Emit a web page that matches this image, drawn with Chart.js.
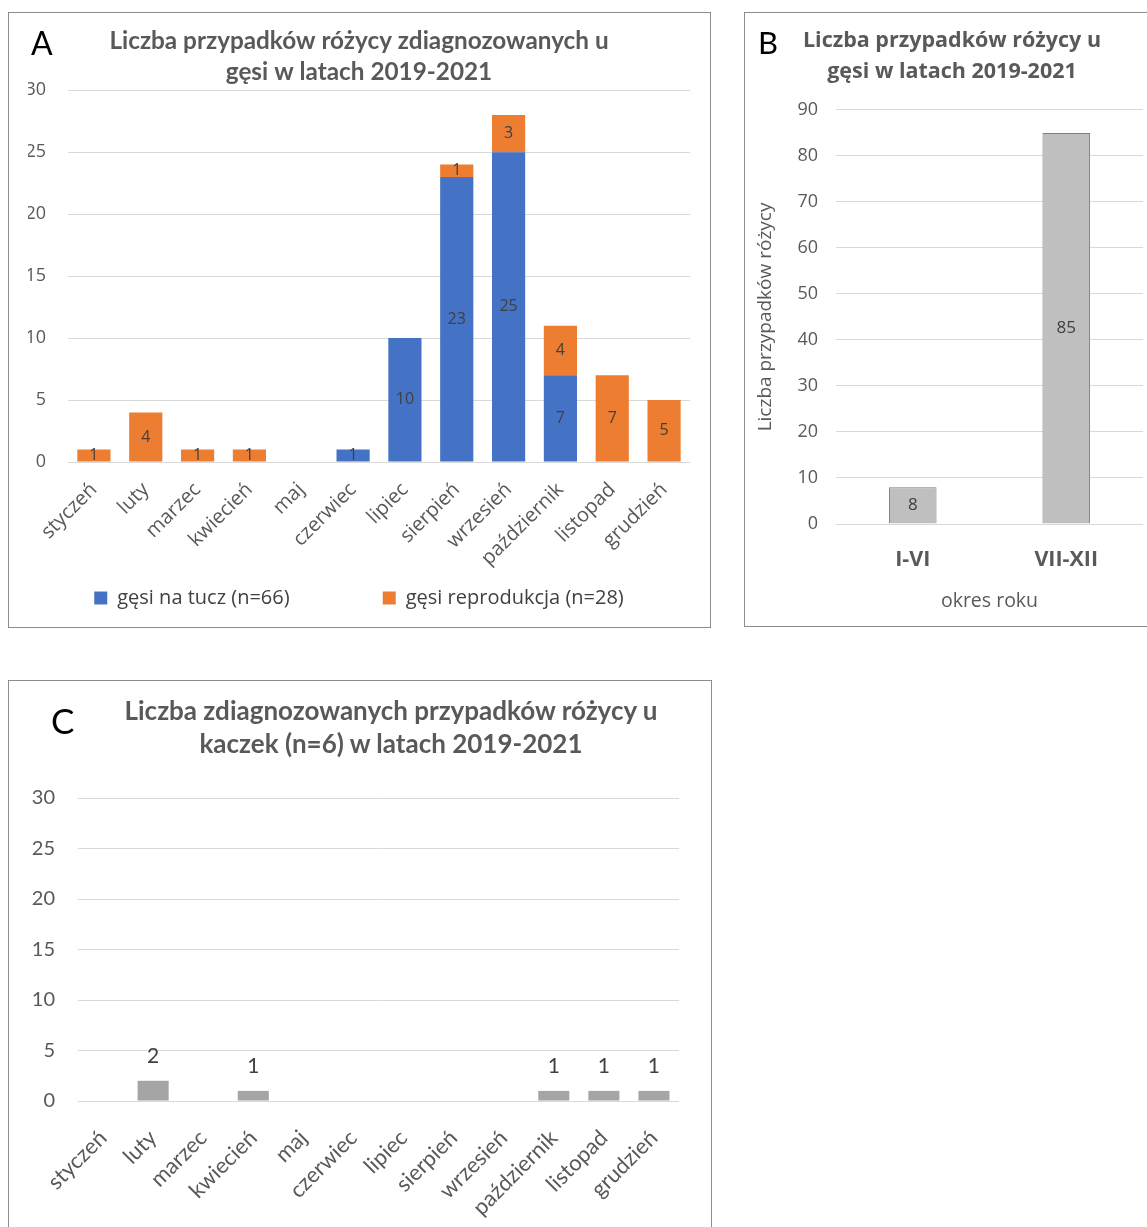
<!DOCTYPE html>
<html>
<head>
<meta charset="utf-8">
<script src="https://cdn.jsdelivr.net/npm/chart.js@4.4.1/dist/chart.umd.min.js"></script>
<style>
  html, body { margin: 0; padding: 0; background: #fff; overflow: hidden; width: 1147px; height: 1227px; }
  .panel { position: absolute; border: 1px solid #8c8c8c; box-sizing: border-box; }
  .panel canvas { position: absolute; }
  .letter { position: absolute; font-family: Lato, sans-serif; color: #000; line-height: 1; }
  .title-c { position: absolute; font-family: Lato, sans-serif; font-weight: bold; font-size: 26px;
             line-height: 33px; color: #595959; text-align: center; width: 640px; }
</style>
</head>
<body>

<div class="panel" style="left:8px; top:12px; width:703px; height:616px;">
  <canvas id="chartA" width="700" height="613" style="left:0; top:0;"></canvas>
</div>
<div class="panel" style="left:744px; top:12px; width:420px; height:615px;">
  <canvas id="chartB" width="404" height="613" style="left:0; top:0;"></canvas>
</div>
<div class="panel" style="left:8px; top:680px; width:704px; height:600px;">
  <canvas id="chartC" width="701" height="560" style="left:0; top:0;"></canvas>
</div>

<div class="letter" style="left:31px; top:27px; font-size:32px;">A</div>
<div class="letter" style="left:758px; top:27px; font-size:31px;">B</div>
<div class="letter" style="left:51px; top:703px; font-size:35px;">C</div>
<div class="title-c" style="left:71px; top:694px;">Liczba zdiagnozowanych przypadków różycy u<br>kaczek (n=6) w latach 2019-2021</div>

<script>
// --- data ---
const months = ['styczeń', 'luty', 'marzec', 'kwiecień', 'maj', 'czerwiec', 'lipiec',
  'sierpień', 'wrzesień', 'październik', 'listopad', 'grudzień'];
const gesiTucz = [0, 0, 0, 0, 0, 1, 10, 23, 25, 7, 0, 0];
const gesiReprodukcja = [1, 4, 1, 1, 0, 0, 0, 1, 3, 4, 7, 5];
const okresy = ['I-VI', 'VII-XII'];
const okresyLiczba = [8, 85];
const kaczki = [0, 2, 0, 1, 0, 0, 0, 0, 0, 1, 1, 1];

const GRID = '#d9d9d9';
const TEXT = '#595959';

// small plugin that writes the value on each bar
const valueLabels = {
  id: 'valueLabels',
  afterDatasetsDraw(chart, args, opts) {
    const ctx = chart.ctx;
    ctx.save();
    ctx.font = opts.font;
    ctx.fillStyle = opts.color;
    ctx.textAlign = 'center';
    chart.data.datasets.forEach((ds, i) => {
      chart.getDatasetMeta(i).data.forEach((bar, j) => {
        const v = ds.data[j];
        if (!v) return;
        if (opts.position === 'top') {
          ctx.textBaseline = 'alphabetic';
          ctx.fillText(v, bar.x, bar.y - opts.offset);
        } else {
          ctx.textBaseline = 'middle';
          ctx.fillText(v, bar.x, (bar.y + bar.base) / 2);
        }
      });
    });
    ctx.restore();
  }
};

// --- A: stacked, geese per month ---
new Chart(document.getElementById('chartA'), {
  type: 'bar',
  data: {
    labels: months,
    datasets: [
      { label: 'gęsi na tucz (n=66)', data: gesiTucz, backgroundColor: '#4472c4' },
      { label: 'gęsi reprodukcja (n=28)', data: gesiReprodukcja, backgroundColor: '#ed7d31' }
    ]
  },
  plugins: [valueLabels],
  options: {
    responsive: false,
    animation: false,
    layout: { padding: { left: 19, right: 19, top: 0, bottom: 8 } },
    datasets: { bar: { barPercentage: 0.64, categoryPercentage: 1 } },
    plugins: {
      title: {
        display: true,
        text: ['Liczba przypadków różycy zdiagnozowanych u', 'gęsi w latach 2019-2021'],
        color: TEXT,
        font: { family: 'Lato', size: 24.3, weight: 'bold', lineHeight: 1.28 },
        padding: { top: 13, bottom: 2 }
      },
      legend: {
        position: 'bottom',
        labels: {
          boxWidth: 13, boxHeight: 13, padding: 10, color: '#404040',
          font: { family: 'Open Sans', size: 20 },
          // wide gap between the two entries, as in the original
          generateLabels(chart) {
            const items = Chart.defaults.plugins.legend.labels.generateLabels(chart);
            items[0].text += ' '.repeat(16);
            return items;
          }
        }
      },
      tooltip: { enabled: false },
      valueLabels: { font: '16px "Open Sans"', color: '#404040', position: 'center' }
    },
    scales: {
      x: {
        stacked: true,
        grid: { display: false },
        border: { display: false },
        ticks: { color: TEXT, font: { family: 'Open Sans', size: 20 }, minRotation: 45, maxRotation: 45, padding: 8 },
        afterFit(s) { s.height = 116; }
      },
      y: {
        stacked: true,
        min: 0, max: 30,
        grid: { color: GRID, drawTicks: false },
        border: { display: false },
        ticks: { stepSize: 5, color: TEXT, font: { family: 'Open Sans', size: 18 }, padding: 22 },
        afterFit(s) { s.width = 40; }
      }
    }
  }
});

// --- B: first vs second half of the year ---
new Chart(document.getElementById('chartB'), {
  type: 'bar',
  data: {
    labels: okresy,
    datasets: [{
      label: 'Liczba przypadków różycy',
      data: okresyLiczba,
      backgroundColor: '#bfbfbf',
      borderColor: '#7f7f7f',
      borderWidth: 1
    }]
  },
  plugins: [valueLabels],
  options: {
    responsive: false,
    animation: false,
    layout: { padding: { left: 16, right: 6, top: 0, bottom: 0 } },
    datasets: { bar: { barPercentage: 0.31, categoryPercentage: 1 } },
    plugins: {
      title: {
        display: true,
        text: ['Liczba przypadków różycy u', 'gęsi w latach 2019-2021'],
        color: TEXT,
        font: { family: 'Open Sans', size: 21.5, weight: 'bold', lineHeight: 1.44 },
        padding: { top: 12.5, bottom: 22.5 }
      },
      legend: { display: false },
      tooltip: { enabled: false },
      valueLabels: { font: '17px "Open Sans"', color: '#404040', position: 'center' }
    },
    scales: {
      x: {
        grid: { display: false },
        border: { display: false },
        ticks: { color: TEXT, font: { family: 'Open Sans', size: 21.5, weight: 'bold' }, padding: 15 },
        title: {
          display: true, text: 'okres roku', color: TEXT,
          font: { family: 'Open Sans', size: 19.5 }, padding: { top: 0, bottom: 13.3 }
        },
        afterFit(s) { s.height = 102; }
      },
      y: {
        min: 0, max: 90,
        grid: { color: GRID, drawTicks: false },
        border: { display: false },
        ticks: { stepSize: 10, color: TEXT, font: { family: 'Open Sans', size: 18 }, padding: 18 },
        title: {
          display: true, text: 'Liczba przypadków różycy', color: TEXT,
          font: { family: 'Open Sans', size: 19 }, padding: { top: -6.4, bottom: 0 }
        },
        afterFit(s) { s.width = 75; }
      }
    }
  }
});

// --- C: ducks per month ---
new Chart(document.getElementById('chartC'), {
  type: 'bar',
  data: {
    labels: months,
    datasets: [{ label: 'kaczki', data: kaczki, backgroundColor: '#a5a5a5' }]
  },
  plugins: [valueLabels],
  options: {
    responsive: false,
    animation: false,
    layout: { padding: { left: 0, right: 31, top: 117, bottom: 0 } },
    datasets: { bar: { barPercentage: 0.62, categoryPercentage: 1 } },
    plugins: {
      legend: { display: false },
      tooltip: { enabled: false },
      valueLabels: { font: '21px Lato', color: '#404040', position: 'top', offset: 18 }
    },
    scales: {
      x: {
        grid: { display: false },
        border: { display: false },
        ticks: { color: TEXT, font: { family: 'Lato', size: 22 }, minRotation: 45, maxRotation: 45, padding: 16 },
        afterFit(s) { s.height = 140; }
      },
      y: {
        min: 0, max: 30,
        grid: { color: GRID, drawTicks: false },
        border: { display: false },
        ticks: { stepSize: 5, color: TEXT, font: { family: 'Lato', size: 20 }, padding: 23 },
        afterFit(s) { s.width = 69; }
      }
    }
  }
});
</script>
</body>
</html>
